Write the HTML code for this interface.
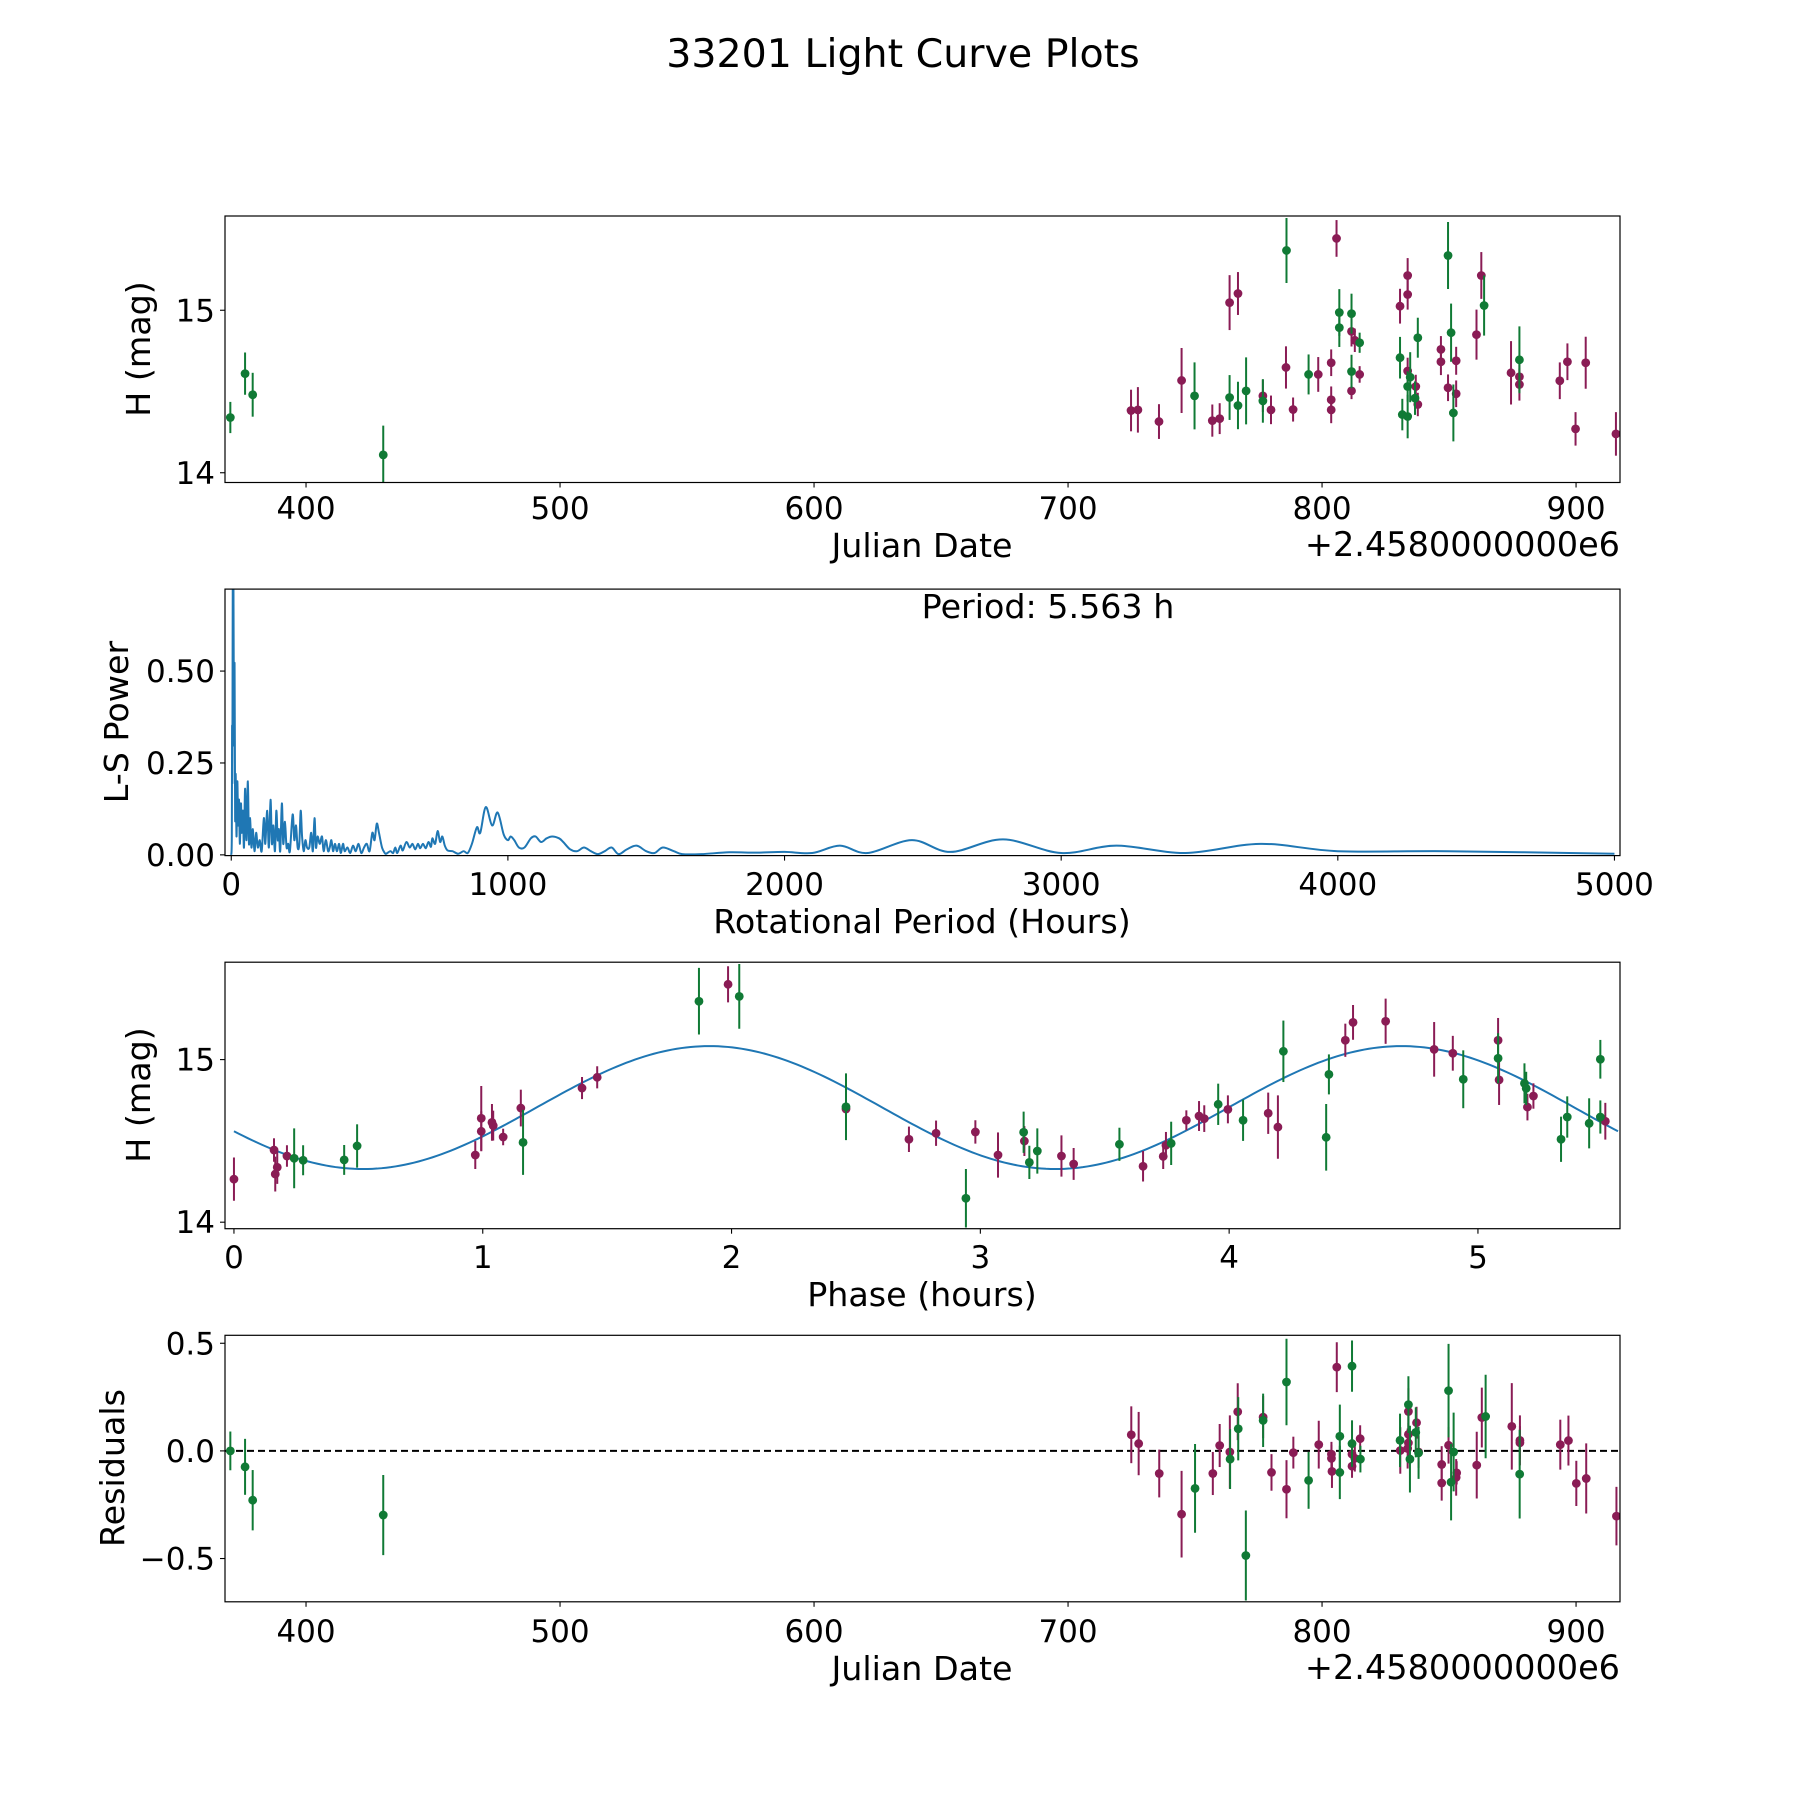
<!DOCTYPE html>
<html><head><meta charset="utf-8"><style>
html,body{margin:0;padding:0;background:#fff}
svg{display:block}
text{font-family:"DejaVu Sans","Liberation Sans",sans-serif;fill:#000}
</style></head><body>
<svg id="fig" width="1800" height="1800" viewBox="0 0 1800 1800" xmlns="http://www.w3.org/2000/svg">
<rect x="0" y="0" width="1800" height="1800" fill="#fff"/>
<text x="903" y="67" font-size="39.5" text-anchor="middle">33201 Light Curve Plots</text>
</svg>
<script>
// ---------- data: light curve (Julian Date offset, H mag, error) ----------
const lcDateM=[724.8,727.5,735.8,744.7,756.8,759.7,763.6,766.9,776.7,779.9,785.8,788.6,798.5,803.6,803.6,803.6,805.7,811.6,811.6,812.9,814.8,830.7,833.7,833.7,833.7,836.9,837.7,846.8,846.8,849.6,852.8,852.8,860.8,862.7,874.4,877.7,877.7,893.6,896.6,899.8,903.8,915.7];
const lcMagM=[14.383,14.387,14.315,14.568,14.321,14.333,15.047,15.103,14.473,14.387,14.648,14.389,14.605,14.677,14.449,14.387,15.442,14.870,14.504,14.815,14.605,15.025,15.214,15.097,14.626,14.531,14.420,14.759,14.683,14.523,14.689,14.486,14.85,15.214,14.615,14.591,14.543,14.566,14.683,14.270,14.677,14.239];
const lcErrM=[0.128,0.14,0.107,0.2,0.099,0.095,0.169,0.132,0.099,0.088,0.13,0.074,0.107,0.082,0.082,0.082,0.113,0.093,0.051,0.072,0.051,0.107,0.107,0.093,0.082,0.072,0.072,0.082,0.082,0.082,0.086,0.082,0.154,0.144,0.195,0.093,0.099,0.113,0.113,0.103,0.16,0.134];
const lcDateG=[370.2,376,379,430.4,749.8,763.6,766.9,770.1,776.7,786,794.7,806.8,806.8,811.6,811.6,814.8,830.7,833.7,831.6,833.7,834.7,836.6,837.7,849.6,850.8,851.7,863.8,877.7];
const lcMagG=[14.34,14.61,14.48,14.11,14.473,14.463,14.414,14.504,14.442,15.368,14.605,14.986,14.893,14.979,14.623,14.8,14.708,14.531,14.358,14.346,14.588,14.459,14.831,15.337,14.862,14.368,15.029,14.695];
const lcErrG=[0.096,0.13,0.135,0.18,0.206,0.138,0.146,0.206,0.134,0.2,0.123,0.144,0.119,0.123,0.103,0.062,0.128,0.093,0.097,0.134,0.154,0.103,0.123,0.206,0.179,0.175,0.185,0.206];

// ---------- data: periodogram ----------
const lsPeriod=[0,2,3,4,5,5.563,6.5,8,10,12,14,16,19,22,25,28,31,35,38,42,46,50,55,60,64,68,73,78,84,90,96,103,110,118,123,130,136,142,147,152,158,163,168,172,177,183,188,194,200,206,212,222,228,234,240,246,251,256,262,268,274,282,289,295,301,306,312,320,328,334,342,350,356,362,368,375,382,390,396,404,410,420,430,440,450,460,470,480,490,500,510,518,526,534,545,555,560,575,585,593,600,612,620,633,645,655,665,675,683,693,703,713,722,727,737,746,755,763,772,782,800,820,840,855,870,888,900,920,943,963,985,1000,1010,1023,1040,1060,1083,1100,1120,1140,1160,1185,1200,1225,1250,1275,1300,1325,1350,1375,1400,1430,1465,1500,1530,1560,1600,1630,1700,1800,1900,2000,2100,2200,2300,2460,2600,2790,3000,3200,3450,3720,4000,4400,5000];
const lsPower=[0,0.05,0.35,0.2,0.6,0.75,0.45,0.72,0.3,0.52,0.1,0.22,0.05,0.2,0.08,0.15,0.03,0.14,0.06,0.12,0.02,0.18,0.04,0.2,0.03,0.1,0.02,0.07,0.01,0.06,0.02,0.04,0.01,0.1,0.03,0.12,0.02,0.15,0.03,0.08,0.01,0.12,0.04,0.07,0.01,0.14,0.03,0.09,0.02,0.03,0.01,0.11,0.04,0.08,0.02,0.03,0.12,0.05,0.01,0.04,0.02,0.02,0.06,0.01,0.1,0.02,0.05,0.03,0.05,0.01,0.04,0.01,0.02,0.04,0.01,0.03,0.01,0.03,0.005,0.03,0.01,0.02,0.005,0.025,0.01,0.03,0.005,0.02,0.03,0.01,0.06,0.04,0.085,0.06,0.02,0.005,0.003,0.01,0.005,0.02,0.005,0.025,0.012,0.035,0.02,0.03,0.015,0.03,0.018,0.03,0.018,0.035,0.022,0.045,0.03,0.065,0.035,0.05,0.025,0.012,0.01,0.003,0.01,0.005,0.03,0.075,0.06,0.13,0.08,0.115,0.055,0.04,0.05,0.04,0.02,0.02,0.045,0.05,0.035,0.045,0.05,0.045,0.035,0.015,0.01,0.02,0.01,0.002,0.01,0.02,0.002,0.015,0.025,0.01,0.005,0.02,0.01,0.002,0.002,0.007,0.006,0.008,0.005,0.025,0.005,0.04,0.008,0.042,0.005,0.025,0.005,0.03,0.01,0.01,0.003];
const bestPeriodLabel="Period: 5.563 h";

// ---------- data: phased light curve ----------
const phM=[0.0,0.161,0.174,0.166,0.213,0.970,0.994,0.994,1.037,1.042,1.082,1.153,1.399,1.460,1.986,2.460,2.713,2.822,2.980,3.071,3.177,3.326,3.375,3.654,3.735,3.746,3.828,3.879,3.900,3.995,4.157,4.196,4.467,4.498,4.629,4.824,4.899,5.081,5.085,5.199,5.223,5.512];
const phMagM=[14.265,14.444,14.338,14.296,14.407,14.413,14.639,14.559,14.614,14.594,14.524,14.702,14.825,14.891,15.463,14.696,14.510,14.547,14.555,14.413,14.499,14.407,14.358,14.344,14.405,14.473,14.627,14.653,14.637,14.694,14.670,14.585,15.119,15.229,15.236,15.063,15.039,15.119,14.875,14.708,14.776,14.621];
const phErrM=[0.133,0.072,0.102,0.107,0.066,0.086,0.199,0.123,0.113,0.092,0.051,0.113,0.068,0.068,0.111,0.154,0.078,0.078,0.072,0.139,0.092,0.127,0.098,0.094,0.078,0.082,0.061,0.092,0.082,0.086,0.127,0.195,0.102,0.107,0.139,0.168,0.107,0.137,0.154,0.082,0.078,0.113];
const phG=[0.242,0.278,0.443,0.495,1.162,1.869,2.031,2.460,2.942,3.174,3.197,3.229,3.559,3.767,3.956,4.056,4.218,4.390,4.401,4.941,5.081,5.187,5.194,5.334,5.359,5.447,5.492,5.492];
const phMagG=[14.393,14.381,14.383,14.469,14.491,15.359,15.389,14.710,14.147,14.553,14.368,14.438,14.479,14.485,14.725,14.627,15.051,14.522,14.909,14.879,15.008,14.854,14.823,14.510,14.647,14.608,15.002,14.647];
const phErrG=[0.184,0.092,0.092,0.133,0.2,0.205,0.199,0.205,0.18,0.127,0.102,0.139,0.102,0.133,0.127,0.127,0.189,0.205,0.123,0.178,0.154,0.123,0.102,0.139,0.127,0.154,0.119,0.102];
const fitMean=14.705, fitAmp=0.378, fitPeakPhase=1.911, fitHalfPeriod=2.7815, phaseMax=5.563;

// ---------- data: residuals ----------
const resDateM=[724.9,727.8,735.9,744.7,757,759.7,763.7,766.8,776.8,780.1,786,788.7,798.7,803.7,803.7,803.9,805.8,811.8,811.8,812.9,815,830.8,834,834,834,833.7,837.2,838,847.1,847.1,849.8,853,852.8,860.9,862.9,874.7,877.9,877.9,893.8,897,900.1,904,915.9];
const resValM=[0.075,0.034,-0.105,-0.294,-0.105,0.025,-0.005,0.182,0.157,-0.1,-0.178,-0.008,0.029,-0.015,-0.035,-0.095,0.389,-0.015,-0.071,-0.034,0.057,0.002,0.183,0.077,0.037,0.011,0.131,-0.005,-0.063,-0.149,0.026,-0.102,-0.123,-0.066,0.155,0.114,0.049,0.038,0.029,0.048,-0.151,-0.128,-0.303];
const resErrM=[0.132,0.147,0.111,0.201,0.1,0.1,0.17,0.132,0.098,0.085,0.135,0.074,0.111,0.043,0.077,0.077,0.116,0.07,0.054,0.062,0.062,0.108,0.108,0.093,0.093,0.093,0.074,0.074,0.085,0.082,0.085,0.054,0.085,0.155,0.139,0.201,0.116,0.077,0.116,0.116,0.105,0.163,0.136];
const resDateG=[370.2,376,379,430.4,750,763.8,767,770,776.8,786,794.7,807,807,811.8,811.8,815.1,830.7,834,834.6,836.9,838,849.8,850.8,851.8,864.4,877.8];
const resValG=[0.0,-0.074,-0.229,-0.298,-0.174,-0.038,0.103,-0.486,0.142,0.32,-0.137,0.068,-0.1,0.394,0.034,-0.038,0.049,0.215,-0.038,0.086,-0.009,0.28,-0.145,-0.005,0.16,-0.108];
const resErrG=[0.09,0.13,0.14,0.186,0.206,0.139,0.147,0.209,0.124,0.201,0.132,0.147,0.124,0.119,0.108,0.062,0.124,0.132,0.155,0.116,0.121,0.217,0.178,0.183,0.194,0.206];

// ---------- ticks ----------
const jdTicks=[400,500,600,700,800,900];
const lcYTicks=[14,15];
const lsXTicks=[0,1000,2000,3000,4000,5000];
const lsYTicks=[0,0.25,0.5];
const lsYTickLabels=["0.00","0.25","0.50"];
const phXTicks=[0,1,2,3,4,5];
const resYTicks=[-0.5,0,0.5];
const resYTickLabels=["\u22120.5","0.0","0.5"];

const COL_M="#8a1c55", COL_G="#107a35", COL_LINE="#1f77b4";
const NS="http://www.w3.org/2000/svg";
const svg=document.getElementById('fig');
function mk(tag,attrs,parent){const e=document.createElementNS(NS,tag);for(const k in attrs)e.setAttribute(k,attrs[k]);(parent||svg).appendChild(e);return e;}

function makeAxes(id,box,xlim,ylim){
  const ax={box,xlim,ylim};
  ax.x=v=>box.x+(v-xlim[0])/(xlim[1]-xlim[0])*box.w;
  ax.y=v=>box.y+box.h-(v-ylim[0])/(ylim[1]-ylim[0])*box.h;
  const cp=mk('clipPath',{id:'clip-'+id});
  mk('rect',{x:box.x,y:box.y,width:box.w,height:box.h},cp);
  ax.g=mk('g',{'clip-path':'url(#clip-'+id+')'});
  
  
  return ax;
}
function frame(ax,id){
  const b=ax.box;
  const r=mk('rect',{x:b.x,y:b.y,width:b.w,height:b.h,fill:'none',stroke:'#000','stroke-width':1.2});
  
  
}
function xTicks(ax,id,vals,labels,labelY){
  const g=mk('g',{});
  
  
  vals.forEach((v,i)=>{
    const px=ax.x(v);
    mk('line',{x1:px,x2:px,y1:ax.box.y+ax.box.h,y2:ax.box.y+ax.box.h+5,stroke:'#000','stroke-width':1.1},g);
    const t=mk('text',{x:px,y:labelY,'font-size':31,'text-anchor':'middle'},g);
    t.textContent=labels?labels[i]:String(v);
  });
}
function yTicks(ax,id,vals,labels){
  const g=mk('g',{});
  
  
  vals.forEach((v,i)=>{
    const py=ax.y(v);
    mk('line',{x1:ax.box.x-5,x2:ax.box.x,y1:py,y2:py,stroke:'#000','stroke-width':1.1},g);
    const t=mk('text',{x:ax.box.x-10,y:py+11,'font-size':31,'text-anchor':'end'},g);
    t.textContent=labels?labels[i]:String(v);
  });
}
function label(txt,x,y,rot,name){
  const t=mk('text',{x:x,y:y,'font-size':33.3,'text-anchor':'middle'});
  if(rot)t.setAttribute('transform','rotate(-90 '+x+' '+y+')');
  t.textContent=txt;
  
  
  return t;
}
function errPoints(ax,xs,ys,es,color,name){
  const g=mk('g',{},ax.g);
  
  
  xs.forEach((xv,i)=>{
    const px=ax.x(xv);
    const bar=mk('line',{x1:px,x2:px,y1:ax.y(ys[i]-es[i]),y2:ax.y(ys[i]+es[i]),stroke:color,'stroke-width':2},g);
    
    
    const c=mk('circle',{cx:px,cy:ax.y(ys[i]),r:4.4,fill:color},g);
    
    
  });
}

const L=225,W=1395,H=266.5;
// ---- Axes 1: light curve ----
const a1=makeAxes('light-curve',{x:L,y:216,w:W,h:H},[368.1,917.3],[13.94,15.58]);
errPoints(a1,lcDateM,lcMagM,lcErrM,COL_M,'lc-filter-1');
errPoints(a1,lcDateG,lcMagG,lcErrG,COL_G,'lc-filter-2');
frame(a1,'light-curve');
xTicks(a1,'light-curve',jdTicks,null,519);
yTicks(a1,'light-curve',lcYTicks,null);
label('Julian Date',922,557,false,'light-curve-x-axis-title');
label('H (mag)',150,349,true,'light-curve-y-axis-title');
(function(){const t=mk('text',{x:1620,y:556,'font-size':33.5,'text-anchor':'end'});t.textContent='+2.4580000000e6';

})();

// ---- Axes 2: periodogram ----
const a2=makeAxes('periodogram',{x:L,y:589.1,w:W,h:H},[-22.6,5020],[-0.002,0.723]);
(function(){
  const px=lsPeriod.map(p=>a2.x(p)), py=lsPower.map(v=>a2.y(v));
  let d='M'+px[0].toFixed(2)+','+py[0].toFixed(2);
  for(let i=0;i<px.length-1;i++){
    const i0=Math.max(0,i-1), i2=i+1, i3=Math.min(px.length-1,i+2);
    const c1x=px[i]+(px[i2]-px[i0])/6, c1y=py[i]+(py[i2]-py[i0])/6;
    const c2x=px[i2]-(px[i3]-px[i])/6, c2y=py[i2]-(py[i3]-py[i])/6;
    d+='C'+c1x.toFixed(2)+','+c1y.toFixed(2)+' '+c2x.toFixed(2)+','+c2y.toFixed(2)+' '+px[i2].toFixed(2)+','+py[i2].toFixed(2);
  }
  const pl=mk('path',{d:d,fill:'none',stroke:COL_LINE,'stroke-width':2,'stroke-linejoin':'round'},a2.g);
  
  
})();
frame(a2,'periodogram');
xTicks(a2,'periodogram',lsXTicks,null,895);
yTicks(a2,'periodogram',lsYTicks,lsYTickLabels);
label('Rotational Period (Hours)',922,933,false,'periodogram-x-axis-title');
label('L-S Power',128,722,true,'periodogram-y-axis-title');
label(bestPeriodLabel,1048,618,false,'best-period-annotation');

// ---- Axes 3: phased ----
const a3=makeAxes('phase',{x:L,y:962.2,w:W,h:H},[-0.036,5.571],[13.96,15.599]);
(function(){
  const xs=[];for(let i=0;i<=300;i++)xs.push(phaseMax*i/300);
  let d='';
  xs.forEach((p,i)=>{const v=fitMean+fitAmp*Math.cos(2*Math.PI*(p-fitPeakPhase)/fitHalfPeriod);
    d+=(i?'L':'M')+a3.x(p).toFixed(2)+','+a3.y(v).toFixed(2);});
  const pl=mk('path',{d:d,fill:'none',stroke:COL_LINE,'stroke-width':2},a3.g);
  
  
})();
errPoints(a3,phM,phMagM,phErrM,COL_M,'phase-filter-1');
errPoints(a3,phG,phMagG,phErrG,COL_G,'phase-filter-2');
frame(a3,'phase');
xTicks(a3,'phase',phXTicks,null,1268);
yTicks(a3,'phase',lcYTicks,null);
label('Phase (hours)',922,1306,false,'phase-x-axis-title');
label('H (mag)',150,1095,true,'phase-y-axis-title');

// ---- Axes 4: residuals ----
const a4=makeAxes('residuals',{x:L,y:1335.3,w:W,h:H},[368.1,917.3],[-0.701,0.537]);
(function(){const z=mk('line',{x1:L,x2:L+W,y1:a4.y(0),y2:a4.y(0),stroke:'#000','stroke-width':2,'stroke-dasharray':'7,4'},a4.g);

})();
errPoints(a4,resDateM,resValM,resErrM,COL_M,'res-filter-1');
errPoints(a4,resDateG,resValG,resErrG,COL_G,'res-filter-2');
frame(a4,'residuals');
xTicks(a4,'residuals',jdTicks,null,1642);
yTicks(a4,'residuals',resYTicks,resYTickLabels);
label('Julian Date',922,1680,false,'residuals-x-axis-title');
label('Residuals',124,1468,true,'residuals-y-axis-title');
(function(){const t=mk('text',{x:1620,y:1679,'font-size':33.5,'text-anchor':'end'});t.textContent='+2.4580000000e6';

})();
</script>
</body></html>
